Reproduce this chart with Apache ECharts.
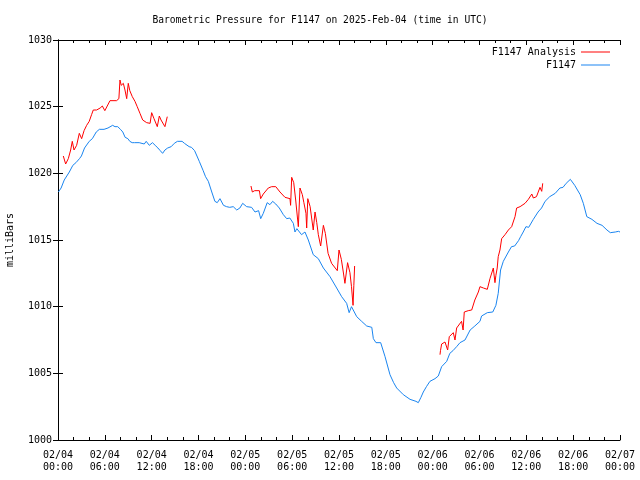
<!DOCTYPE html>
<html>
<head>
<meta charset="utf-8">
<script src="https://cdn.jsdelivr.net/npm/echarts@6/dist/echarts.min.js"></script>
<style>html,body{margin:0;padding:0;background:#fff}#c{width:640px;height:480px}</style>
</head>
<body>
<div id="c"></div>
<script>
// hours since 2025-02-04 00:00 UTC
const blueHours = [0.05,0.4,0.8,1.45,1.9,2.3,2.75,3.0,3.4,4.0,4.4,4.9,5.3,5.9,6.4,7.0,7.3,7.65,8.0,8.3,8.6,8.95,9.2,9.5,9.8,10.4,11.05,11.3,11.7,12.1,12.45,12.8,13.1,13.4,13.7,14.05,14.5,14.9,15.3,15.55,15.9,16.2,16.8,17.1,17.5,17.8,18.1,18.6,18.9,19.26,19.7,20.1,20.4,20.75,21.2,21.6,22.0,22.45,22.9,23.3,23.66,24.17,24.8,25.24,25.7,25.97,26.3,26.8,27.15,27.5,27.9,28.35,28.87,29.3,29.7,30.15,30.36,30.6,31.2,31.64,32.07,32.7,33.35,34.0,34.85,35.7,36.34,36.98,37.3,37.6,38.27,38.9,39.55,40.2,40.4,40.74,41.34,41.9,42.53,43.0,43.39,44.24,45.1,45.86,46.16,46.5,46.8,47.2,47.65,48.3,48.72,49.15,49.8,50.2,50.6,51.07,51.5,52.14,52.8,53.4,54.06,54.27,55.0,55.7,56.1,56.4,56.7,57.05,57.7,58.1,58.5,58.75,59.0,59.27,59.6,59.95,60.3,60.9,61.5,61.95,62.4,63.0,63.7,64.3,64.7,65.1,65.64,66.2,66.9,67.3,67.75,68.4,69.05,69.7,70.33,70.76,71.4,71.8,72.0];
const blueValues = [1018.6,1018.9,1019.5,1020.1,1020.6,1020.8,1021.1,1021.3,1021.9,1022.4,1022.6,1023.1,1023.3,1023.3,1023.4,1023.6,1023.5,1023.5,1023.3,1023.1,1022.7,1022.6,1022.4,1022.3,1022.3,1022.3,1022.2,1022.4,1022.1,1022.3,1022.1,1021.9,1021.7,1021.5,1021.75,1021.9,1022.0,1022.25,1022.4,1022.55,1022.4,1022.25,1022.0,1021.95,1021.7,1021.3,1020.9,1020.2,1019.75,1019.4,1018.6,1017.9,1017.8,1018.1,1017.6,1017.5,1017.45,1017.5,1017.25,1017.4,1017.75,1017.5,1017.45,1017.1,1017.2,1016.6,1017.0,1017.8,1017.65,1017.9,1017.7,1017.4,1016.9,1016.6,1016.65,1016.25,1015.6,1015.85,1015.4,1015.6,1015.0,1013.9,1013.6,1012.9,1012.25,1011.4,1010.75,1010.25,1009.55,1010.0,1009.25,1008.9,1008.55,1008.45,1007.6,1007.3,1007.3,1006.25,1004.9,1004.3,1003.9,1003.4,1003.05,1002.9,1002.8,1003.2,1003.6,1004.0,1004.4,1004.6,1004.8,1005.5,1005.9,1006.5,1006.7,1007.0,1007.3,1007.5,1008.25,1008.55,1008.9,1009.3,1009.55,1009.6,1010.1,1011.0,1012.75,1013.4,1014.1,1014.5,1014.55,1014.4,1014.95,1015.25,1015.6,1016.0,1015.95,1016.55,1017.1,1017.4,1017.9,1018.25,1018.5,1018.9,1018.95,1019.25,1019.55,1019.1,1018.4,1017.75,1016.75,1016.55,1016.25,1016.1,1015.75,1015.55,1015.6,1015.65,1015.6];

const redHours = [0.68,0.98,1.32,1.62,1.83,2.05,2.39,2.73,3.03,3.34,3.67,4.0,4.3,4.52,4.95,5.4,5.68,6.0,6.66,6.9,7.5,7.8,7.94,8.1,8.37,8.58,8.8,9.0,9.2,9.52,9.86,10.15,10.5,10.85,11.36,11.8,12.0,12.3,12.72,12.98,13.2,13.7,13.8,14.0,
  19.0,
  24.72,24.9,25.2,25.8,25.96,26.3,26.94,27.37,27.9,28.44,29.08,29.72,29.8,29.94,30.2,30.45,30.79,31.0,31.3,31.5,31.77,31.86,32.0,32.3,32.7,32.93,33.15,33.35,33.65,33.8,34.0,34.25,34.6,35.05,35.78,36.0,36.3,36.55,36.76,37.1,37.4,37.6,37.8,37.9,38.0,
  43.0,
  48.94,49.0,49.15,49.58,49.8,49.92,50.13,50.64,50.86,51.07,51.7,51.9,52.05,52.56,53.0,53.4,53.85,54.06,54.5,55.0,55.34,55.77,55.98,56.1,56.27,56.4,56.62,56.84,57.27,57.7,58.12,58.55,58.76,59.2,59.83,60.26,60.7,60.9,61.3,61.75,61.97,62.1];
const redValues = [1021.3,1020.7,1021.1,1021.75,1022.4,1021.75,1022.1,1023.0,1022.6,1023.2,1023.6,1023.9,1024.4,1024.75,1024.75,1024.9,1025.05,1024.7,1025.45,1025.3,1025.45,1025.6,1027.0,1026.6,1026.75,1026.25,1025.6,1026.75,1026.2,1025.75,1025.4,1025.0,1024.5,1024.0,1023.8,1023.75,1024.55,1024.1,1023.5,1024.3,1024.0,1023.5,1023.4,1024.25,
  null,
  1019.05,1018.6,1018.7,1018.7,1018.1,1018.45,1018.9,1019.0,1019.0,1018.6,1018.2,1018.1,1017.6,1019.7,1019.3,1018.0,1016.0,1018.9,1018.4,1017.8,1017.0,1015.9,1018.1,1017.5,1015.75,1017.1,1016.3,1015.4,1014.55,1014.5,1016.1,1015.5,1014.0,1013.25,1012.7,1014.25,1013.55,1012.6,1011.75,1013.3,1012.55,1011.5,1010.1,1011.6,1013.05,
  null,
  1006.4,1006.7,1007.2,1007.35,1007.4,1006.75,1007.75,1008.05,1007.5,1008.4,1008.9,1008.25,1009.6,1009.7,1009.75,1010.5,1011.1,1011.5,1011.4,1011.3,1012.1,1012.9,1011.8,1012.35,1012.9,1013.75,1014.25,1015.1,1015.4,1015.75,1016.0,1016.75,1017.4,1017.5,1017.75,1018.05,1018.45,1018.15,1018.25,1018.95,1018.65,1019.25];

const seriesNames = ['F1147 Analysis', 'F1147'];
const titleText = 'Barometric Pressure for F1147 on 2025-Feb-04 (time in UTC)';
const yName = 'milliBars';

const FONT = '"DejaVu Sans Mono", monospace';
function pad(n){ return (n < 10 ? '0' : '') + n; }
function xLabel(h){
  const d = 4 + Math.floor(h / 24);
  const hh = h % 24;
  return '02/' + pad(d) + '\n' + pad(hh) + ':00';
}
const zip = (xs, ys) => xs.map((x, i) => [x, ys[i]]);

const chart = echarts.init(document.getElementById('c'), null, {renderer: 'canvas'});
const axisLine = {show: true, lineStyle: {color: '#000', width: 1}};
const legendText = {fontFamily: FONT, fontSize: 10, color: '#000'};
chart.setOption({
  animation: false,
  backgroundColor: '#fff',
  title: {text: titleText, left: 'center', top: 10,
    textStyle: {fontFamily: FONT, fontSize: 9.6, fontWeight: 'normal', color: '#000'}},
  grid: {left: 58, right: 20, top: 40, bottom: 40, containLabel: false, outerBoundsMode: 'none'},
  legend: [
    {data: [seriesNames[0]], right: 25, top: 42, align: 'right', orient: 'vertical', icon: 'rect', itemWidth: 29, itemHeight: 1, selectedMode: false, textStyle: legendText},
    {data: [seriesNames[1]], right: 25, top: 55, align: 'right', orient: 'vertical', icon: 'rect', itemWidth: 29, itemHeight: 1, selectedMode: false, textStyle: legendText}
  ],
  xAxis: [
    {type: 'value', min: 0, max: 72, interval: 6, axisLine,
     splitLine: {show: false},
     axisTick: {show: true, inside: true, length: 5, lineStyle: {color: '#000'}},
     minorTick: {show: true, splitNumber: 3, length: 3, lineStyle: {color: '#000'}},
     axisLabel: {formatter: xLabel, fontFamily: FONT, fontSize: 10, color: '#000', margin: 9, lineHeight: 12}},
    {type: 'value', min: 0, max: 72, interval: 6, position: 'top', axisLine,
     splitLine: {show: false},
     axisTick: {show: true, inside: true, length: 5, lineStyle: {color: '#000'}},
     minorTick: {show: true, splitNumber: 3, length: 3, lineStyle: {color: '#000'}},
     axisLabel: {show: false}}
  ],
  yAxis: [
    {type: 'value', min: 1000, max: 1030, interval: 5, axisLine,
     name: yName, nameLocation: 'middle', nameGap: 43, nameRotate: 90,
     nameTextStyle: {fontFamily: FONT, fontSize: 10, color: '#000'},
     splitLine: {show: false},
     axisTick: {show: true, inside: true, length: 5, lineStyle: {color: '#000'}},
     axisLabel: {formatter: v => String(v), fontFamily: FONT, fontSize: 10, color: '#000', margin: 6}},
    {type: 'value', min: 1000, max: 1030, interval: 5, position: 'right', axisLine,
     splitLine: {show: false},
     axisTick: {show: true, inside: true, length: 5, lineStyle: {color: '#000'}},
     axisLabel: {show: false}}
  ],
  series: [
    {name: seriesNames[0], type: 'line', xAxisIndex: 0, yAxisIndex: 0, data: zip(redHours, redValues),
     showSymbol: false, symbol: 'none', connectNulls: false, color: '#ff0000', lineStyle: {width: 1, color: '#ff0000'}},
    {name: seriesNames[1], type: 'line', xAxisIndex: 0, yAxisIndex: 0, data: zip(blueHours, blueValues),
     showSymbol: false, symbol: 'none', color: '#1a85f0', lineStyle: {width: 1, color: '#1a85f0'}}
  ]
});
</script>
</body>
</html>
